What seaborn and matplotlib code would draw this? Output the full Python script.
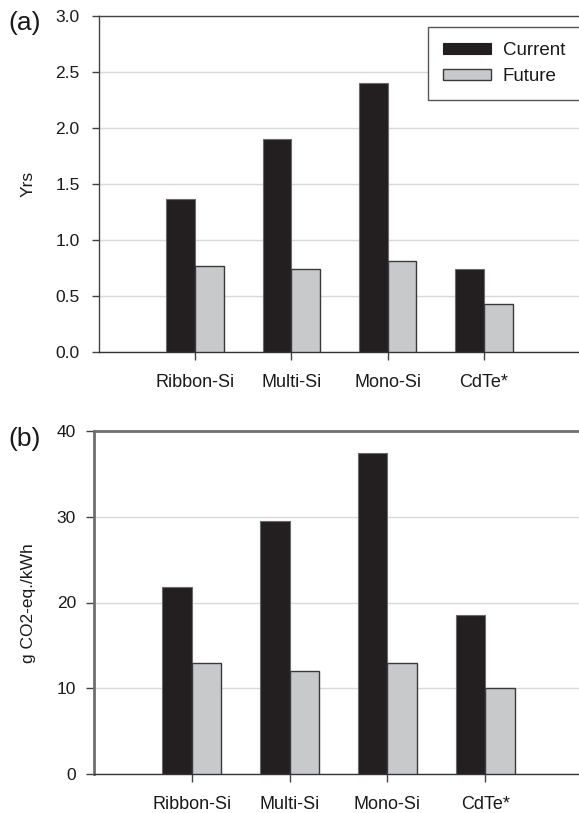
import matplotlib
matplotlib.use("Agg")
import matplotlib.pyplot as plt
from matplotlib.patches import Patch
import seaborn as sns
import pandas as pd

# Technologies and scenarios
technologies = ["Ribbon-Si", "Multi-Si", "Mono-Si", "CdTe*"]
scenarios = ["Current", "Future"]

# (a) energy payback time, years
epbt_current = [1.37, 1.90, 2.40, 0.74]
epbt_future = [0.77, 0.74, 0.81, 0.43]

# (b) greenhouse-gas emissions, g CO2-eq./kWh
ghg_current = [21.8, 29.5, 37.4, 18.5]
ghg_future = [13.0, 12.0, 12.9, 10.0]

yticks_a = [0.0, 0.5, 1.0, 1.5, 2.0, 2.5, 3.0]
yticks_b = [0, 10, 20, 30, 40]

colors = {"Current": "#231f20", "Future": "#c8c9cb"}
TEXT = "#1a1a1a"


def long_frame(current, future):
    return pd.DataFrame({
        "tech": technologies * 2,
        "scenario": ["Current"] * 4 + ["Future"] * 4,
        "value": list(current) + list(future),
    })


sns.set_style("white")
plt.rcParams["font.family"] = ["Liberation Sans", "DejaVu Sans"]
plt.rcParams["text.color"] = TEXT
plt.rcParams["xtick.labelcolor"] = TEXT
plt.rcParams["ytick.labelcolor"] = TEXT

fig = plt.figure(figsize=(5.79, 8.13), dpi=100)
W, H = 579, 813
ax_a = fig.add_axes([99 / W, 1 - 352 / H, 481 / W, 336 / H])
ax_b = fig.add_axes([94 / W, 1 - 774 / H, 489 / W, 343 / H])

panels = [
    (ax_a, long_frame(epbt_current, epbt_future), yticks_a,
     ["0.0", "0.5", "1.0", "1.5", "2.0", "2.5", "3.0"]),
    (ax_b, long_frame(ghg_current, ghg_future), yticks_b,
     ["0", "10", "20", "30", "40"]),
]

for ax, df, yt, ytl in panels:
    sns.barplot(data=df, x="tech", y="value", hue="scenario", order=technologies,
                hue_order=scenarios, palette=colors, width=0.6, gap=0,
                errorbar=None, saturation=1, ax=ax, zorder=3)
    for bar in ax.containers[0]:
        bar.set_edgecolor("#6a6a6a")
        bar.set_linewidth(0.8)
    for bar in ax.containers[1]:
        bar.set_edgecolor("#3a3a3a")
        bar.set_linewidth(1.0)
    ax.set_xlim(-1.0, 4.0)
    ax.set_ylim(yt[0], yt[-1])
    ax.set_yticks(yt)
    ax.set_yticklabels(ytl)
    ax.set_xlabel("")
    ax.set_ylabel("")
    ax.yaxis.grid(True, color="#d9d9d9", linewidth=1.0, zorder=0)
    ax.set_axisbelow(True)
    ax.spines["right"].set_visible(False)
    ax.spines["bottom"].set_color("#333333")
    ax.spines["bottom"].set_linewidth(1.0)
    ax.tick_params(axis="x", direction="out", length=6, width=1, color="#444444",
                   labelsize=13, pad=10, bottom=True)
    ax.tick_params(axis="y", direction="out", length=5, width=1, color="#444444",
                   labelsize=12.5, left=True)
    ax.get_legend().remove()

# panel (a) frame
for side in ("left", "top"):
    ax_a.spines[side].set_color("#444444")
    ax_a.spines[side].set_linewidth(1.0)
ax_a.tick_params(axis="y", pad=9)

# panel (b) frame
for side in ("left", "top"):
    ax_b.spines[side].set_color("#6f6f6f")
    ax_b.spines[side].set_linewidth(2.0)
ax_b.tick_params(axis="y", pad=7, length=6)

fig.text(28 / W, 1 - 184 / H, "Yrs", rotation=90, ha="center", va="center", fontsize=12.5)
fig.text(29 / W, 1 - 603 / H, "g CO2-eq./kWh", rotation=90, ha="center", va="center",
         fontsize=12.5)

fig.text(8 / W, 1 - 23 / H, "(a)", ha="left", va="center", fontsize=19)
fig.text(8 / W, 1 - 439 / H, "(b)", ha="left", va="center", fontsize=19)

handles = [Patch(facecolor=colors["Current"], edgecolor="#231f20", linewidth=0.8),
           Patch(facecolor=colors["Future"], edgecolor="#3a3a3a", linewidth=1.0)]
leg = ax_a.legend(handles, scenarios, loc="upper right", bbox_to_anchor=(1.0, 0.967),
                  borderaxespad=0, fontsize=13.5, handlelength=2.6, handleheight=0.5,
                  handletextpad=0.6, labelspacing=0.5, borderpad=0.8,
                  fancybox=False, frameon=True, framealpha=1)
leg.get_frame().set_edgecolor("#555555")
leg.get_frame().set_linewidth(1.0)

fig.savefig("out.png", dpi=100, facecolor="white")
